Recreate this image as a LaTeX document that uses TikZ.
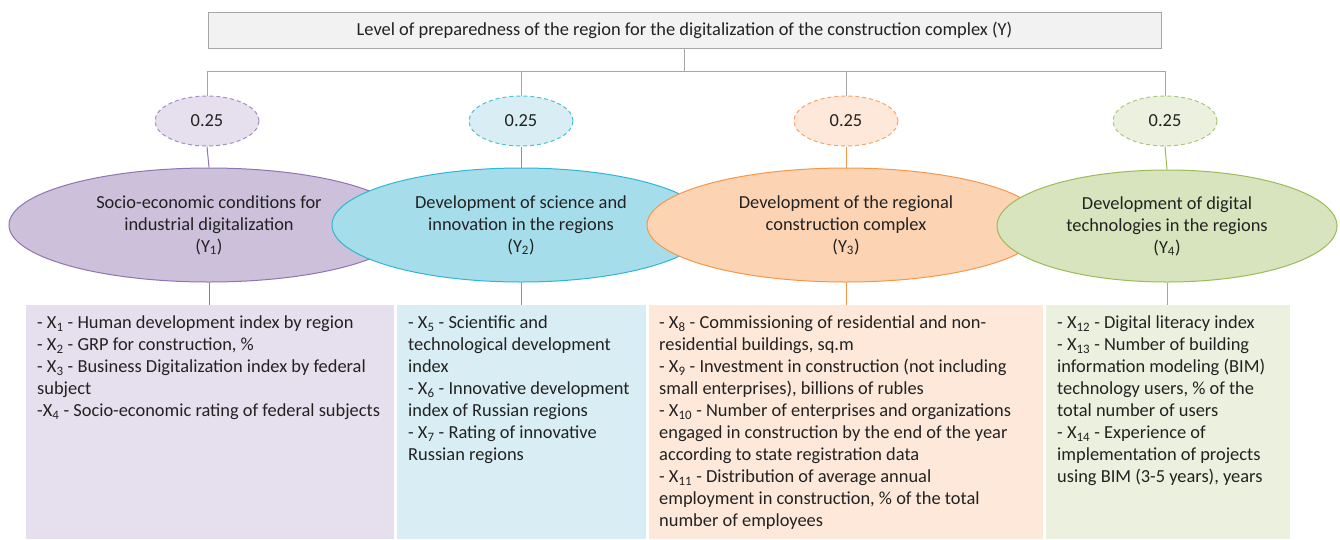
\documentclass[tikz,border=0pt]{standalone}
\usepackage{fontspec}
\setmainfont{Carlito}
\usetikzlibrary{shapes.geometric}
\definecolor{txt}{HTML}{222222}
\definecolor{topfill}{HTML}{F2F2F2}
\definecolor{topline}{HTML}{A6A6A6}
\definecolor{pA}{HTML}{8F74B3}\definecolor{pB}{HTML}{CCC0DA}\definecolor{pC}{HTML}{E6E0EE}\definecolor{pD}{HTML}{A48DC4}
\definecolor{tA}{HTML}{2FB6D3}\definecolor{tB}{HTML}{A6DDEA}\definecolor{tC}{HTML}{D8EEF4}\definecolor{tD}{HTML}{4CC0DA}
\definecolor{oA}{HTML}{F79646}\definecolor{oB}{HTML}{FCD4B4}\definecolor{oC}{HTML}{FDE8D9}\definecolor{oD}{HTML}{F9A468}
\definecolor{gA}{HTML}{9BBB59}\definecolor{gB}{HTML}{D7E4BD}\definecolor{gC}{HTML}{EBF1DE}\definecolor{gD}{HTML}{A9C77A}
\tikzset{
  base/.style={font=\fontsize{18.4}{22}\selectfont, text=txt},
  topbox/.style={base, draw=topline, fill=topfill, line width=1pt, minimum width=953pt, minimum height=36pt, inner sep=0pt},
  wt/.style={base, ellipse, dashed, dash pattern=on 4pt off 3pt, line width=1pt, minimum width=104pt, minimum height=50pt, inner sep=0pt},
  big/.style={base, ellipse, line width=1pt, minimum height=114pt, inner sep=0pt, align=center},
  boxfill/.style={anchor=north west, inner sep=0pt, minimum height=234pt},
  boxtext/.style={base, anchor=north west, inner sep=0pt, align=left},
  conn/.style={line width=1pt},
}
\newcommand{\xs}[1]{X\textsubscript{#1}}
\begin{document}
\begin{tikzpicture}[x=1pt,y=-1pt]
\useasboundingbox (0,0) rectangle (1340,539);
% top
\node[topbox] (top) at (684.5,30) {Level of preparedness of the region for the digitalization of the construction complex (Y)};
\coordinate (bar) at (0,71);
% weights
\node[wt, draw=pD, fill=pC] (s1) at (207,121) {0.25};
\node[wt, draw=tD, fill=tC] (s2) at (521,121) {0.25};
\node[wt, draw=oD, fill=oC] (s3) at (846,121) {0.25};
\node[wt, draw=gD, fill=gC] (s4) at (1165,121) {0.25};
\draw[conn, topline] (top.south) -- (top.south |- bar);
\draw[conn, topline] (s1.north) -- (s1.north |- bar) -- (s4.north |- bar) -- (s4.north);
\draw[conn, topline] (s2.north) -- (s2.north |- bar);
\draw[conn, topline] (s3.north) -- (s3.north |- bar);
% boxes
\node[boxfill, fill=pC, minimum width=368pt] (b1) at (26,305) {};
\node[boxfill, fill=tC, minimum width=249pt] (b2) at (397,305) {};
\node[boxfill, fill=oC, minimum width=394pt] (b3) at (649,305) {};
\node[boxfill, fill=gC, minimum width=244pt] (b4) at (1046,305) {};
% big ellipses
\node[big, draw=pA, fill=pB, minimum width=400pt] (e1) at (209,225) {Socio-economic conditions for\\industrial digitalization\\(Y\textsubscript{1})};
\node[big, draw=tA, fill=tB, minimum width=378pt] (e2) at (521,225) {Development of science and\\innovation in the regions\\(Y\textsubscript{2})};
\node[big, draw=oA, fill=oB, minimum width=398pt] (e3) at (846,225) {Development of the regional\\construction complex\\(Y\textsubscript{3})};
\node[big, draw=gA, fill=gB, minimum width=340pt, minimum height=112pt] (e4) at (1167,226) {Development of digital\\technologies in the regions\\(Y\textsubscript{4})};
% connectors
\draw[conn, pA] (s1.south) -- (e1.north);
\draw[conn, tA] (s2.south) -- (e2.north);
\draw[conn, oA] (s3.south) -- (e3.north);
\draw[conn, gA] (s4.south) -- (e4.north);
\draw[conn, pA] (e1.south) -- (e1.south |- b1.north);
\draw[conn, tA] (e2.south) -- (e2.south |- b2.north);
\draw[conn, oA] (e3.south) -- (e3.south |- b3.north);
\draw[conn, gA] (e4.south) -- (e4.south |- b4.north);
% texts
\node[boxtext] (t1) at (37,316) {- \xs{1} - Human development index by region\\- \xs{2} - GRP for construction, \%\\- \xs{3} - Business Digitalization index by federal\\subject\\-\xs{4} - Socio-economic rating of federal subjects};
\node[boxtext] (t2) at (408,316) {- \xs{5} - Scientific and\\technological development\\index\\- \xs{6} - Innovative development\\index of Russian regions\\- \xs{7} - Rating of innovative\\Russian regions};
\node[boxtext] (t3) at (659,316) {- \xs{8} - Commissioning of residential and non-\\residential buildings, sq.m\\- \xs{9} - Investment in construction (not including\\small enterprises), billions of rubles\\- \xs{10} - Number of enterprises and organizations\\engaged in construction by the end of the year\\according to state registration data\\- \xs{11} - Distribution of average annual\\employment in construction, \% of the total\\number of employees};
\node[boxtext] (t4) at (1057,316) {- \xs{12} - Digital literacy index\\- \xs{13} - Number of building\\information modeling (BIM)\\technology users, \% of the\\total number of users\\- \xs{14} - Experience of\\implementation of projects\\using BIM (3-5 years), years};
\end{tikzpicture}
\end{document}
